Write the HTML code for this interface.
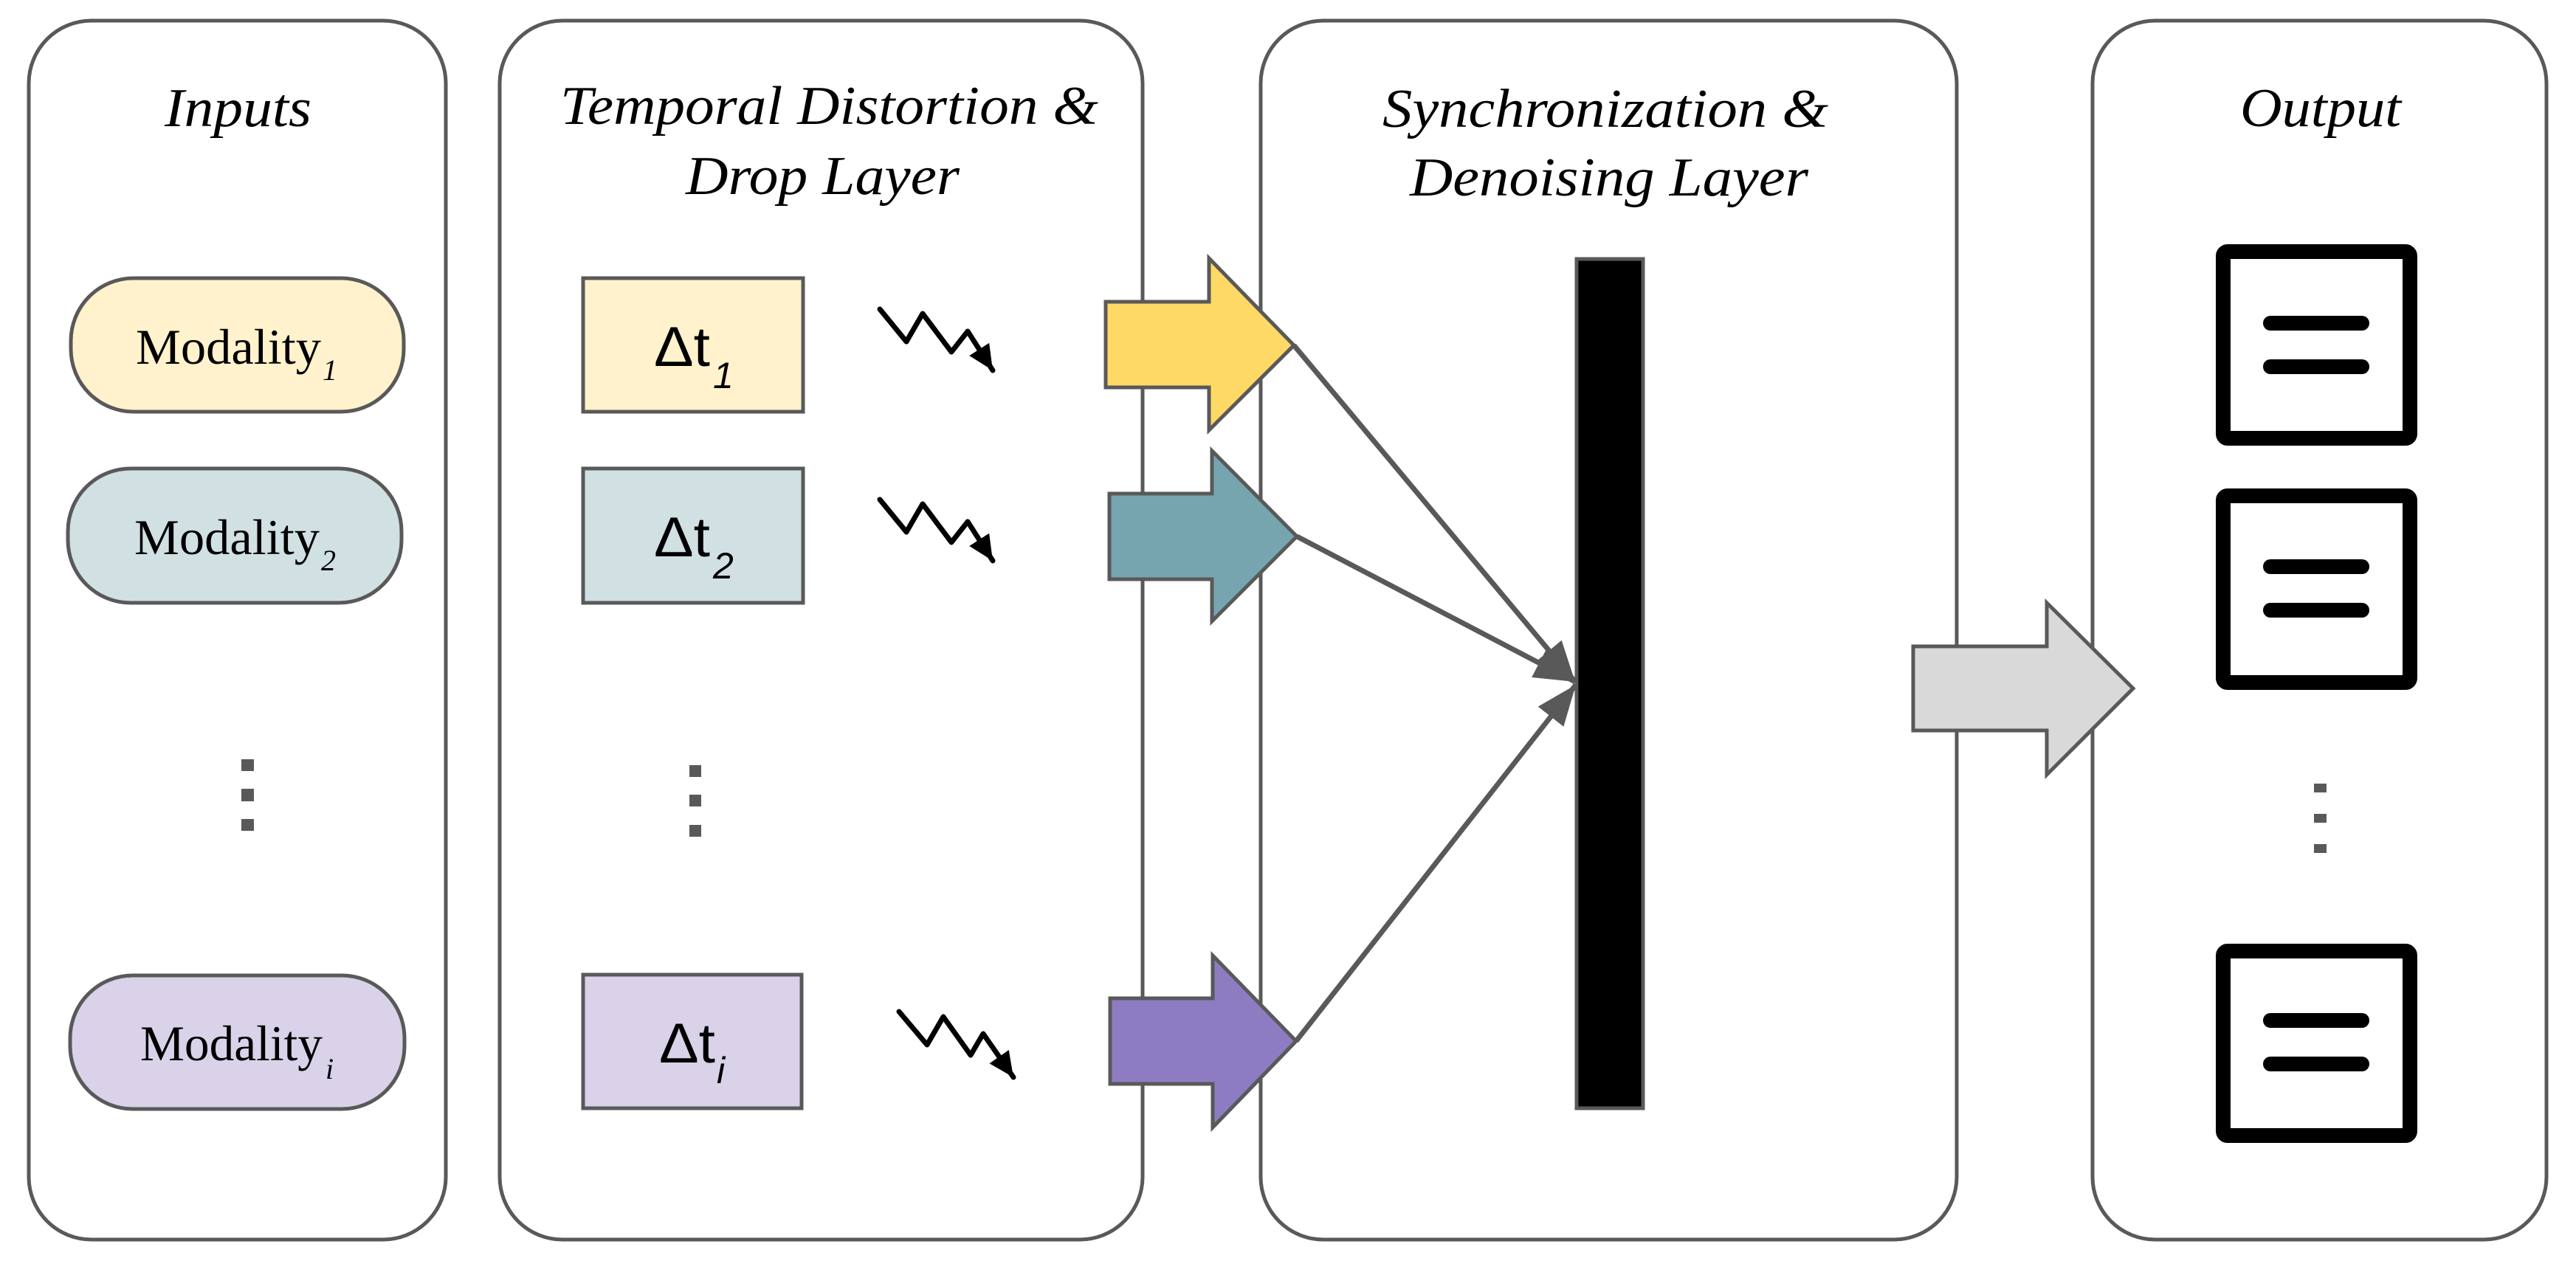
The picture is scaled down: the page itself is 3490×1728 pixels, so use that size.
<!DOCTYPE html>
<html><head><meta charset="utf-8"><style>html,body{margin:0;padding:0;background:#fff}svg{display:block}</style></head>
<body>
<svg width="3490" height="1728" viewBox="0 0 3490 1728" xmlns="http://www.w3.org/2000/svg">
<defs>
<marker id="ah" markerUnits="userSpaceOnUse" markerWidth="60" markerHeight="50" refX="55" refY="22" orient="auto">
<path d="M0,0 L55,22 L0,44 Z" fill="#595959"/>
</marker>
<marker id="zz" markerUnits="userSpaceOnUse" markerWidth="40" markerHeight="40" refX="34" refY="16" orient="auto">
<path d="M0,0 L34,16 L0,32 Z" fill="#000"/>
</marker>
</defs>
<g fill="#fff" stroke="#595959" stroke-width="5">
<rect x="39" y="28" width="565" height="1652" rx="85" ry="85"/>
<rect x="677" y="28" width="871" height="1652" rx="85" ry="85"/>
<rect x="1708" y="28" width="943" height="1652" rx="85" ry="85"/>
<rect x="2835" y="28" width="615" height="1652" rx="85" ry="85"/>
</g>
<g font-family="Liberation Serif, serif" font-style="italic" font-size="74" fill="#000">
<text x="223" y="171" textLength="199" lengthAdjust="spacingAndGlyphs">Inputs</text>
<text x="759" y="168" textLength="729" lengthAdjust="spacingAndGlyphs">Temporal Distortion &amp;</text>
<text x="929" y="263" textLength="371" lengthAdjust="spacingAndGlyphs">Drop Layer</text>
<text x="1873" y="172" textLength="604" lengthAdjust="spacingAndGlyphs">Synchronization &amp;</text>
<text x="1910" y="265" textLength="540" lengthAdjust="spacingAndGlyphs">Denoising Layer</text>
<text x="3035" y="171" textLength="218" lengthAdjust="spacingAndGlyphs">Output</text>
</g>
<g stroke="#595959" stroke-width="5">
<rect x="96" y="377" width="451" height="181" rx="85" ry="85" fill="#fff2cc"/>
<rect x="92" y="635" width="452" height="182" rx="85" ry="85" fill="#d0e0e3"/>
<rect x="95" y="1322" width="453" height="181" rx="85" ry="85" fill="#d9d2e9"/>
<rect x="790" y="377" width="298" height="181" fill="#fff2cc"/>
<rect x="790" y="635" width="298" height="182" fill="#d0e0e3"/>
<rect x="790" y="1321" width="296" height="181" fill="#d9d2e9"/>
</g>
<g font-family="Liberation Serif, serif" fill="#000">
<text x="184" y="493" font-size="68" textLength="251" lengthAdjust="spacingAndGlyphs">Modality</text>
<text x="437" y="515" font-size="40" font-style="italic">1</text>
<text x="182" y="751" font-size="68" textLength="251" lengthAdjust="spacingAndGlyphs">Modality</text>
<text x="435" y="773" font-size="40" font-style="italic">2</text>
<text x="190" y="1437" font-size="68" textLength="247" lengthAdjust="spacingAndGlyphs">Modality</text>
<text x="441" y="1462" font-size="40" font-style="italic">i</text>
</g>
<g font-family="Liberation Sans, sans-serif" fill="#000">
<text x="886" y="496" font-size="76" textLength="76" lengthAdjust="spacingAndGlyphs">Δt</text>
<text x="966" y="526" font-size="50" font-style="italic">1</text>
<text x="886" y="754" font-size="76" textLength="76" lengthAdjust="spacingAndGlyphs">Δt</text>
<text x="966" y="784" font-size="50" font-style="italic">2</text>
<text x="893" y="1440" font-size="76" textLength="76" lengthAdjust="spacingAndGlyphs">Δt</text>
<text x="971" y="1468" font-size="50" font-style="italic">i</text>
</g>
<g fill="#595959">
<rect x="327" y="1029" width="17" height="16"/><rect x="327" y="1069" width="17" height="17"/><rect x="327" y="1110" width="17" height="16"/>
<rect x="934" y="1037" width="16" height="16"/><rect x="934" y="1077" width="16" height="16"/><rect x="934" y="1118" width="16" height="16"/>
<rect x="3135" y="1062" width="17" height="12"/><rect x="3135" y="1103" width="17" height="12"/><rect x="3135" y="1144" width="17" height="12"/>
</g>
<g fill="none" stroke="#000" stroke-width="7" stroke-linejoin="round" stroke-linecap="round" marker-end="url(#zz)">
<polyline points="1192,419 1228,463 1250,425 1289,477 1311,449 1345,502"/>
<polyline points="1192,677 1228,721 1250,683 1289,735 1311,707 1345,760"/>
<polyline points="1218,1371 1256,1416 1278,1378 1315,1430 1332,1401 1373,1460"/>
</g>
<g stroke="#595959" stroke-width="5" stroke-linejoin="miter">
<path d="M1498,409 H1638 V350 L1753,468 L1638,583 V525 H1498 Z" fill="#ffd966"/>
<path d="M1503,669 H1642 V611 L1757,727 L1642,842 V785 H1503 Z" fill="#76a5af"/>
<path d="M1504,1353 H1643 V1295 L1756,1411 L1643,1528 V1469 H1504 Z" fill="#8e7cc3"/>
<path d="M2592,876 H2773 V817 L2890,933 L2773,1050 V990 H2592 Z" fill="#d9d9d9"/>
</g>
<rect x="2136" y="351" width="90" height="1151" fill="#000" stroke="#595959" stroke-width="5"/>
<g stroke="#595959" stroke-width="7" fill="none" marker-end="url(#ah)">
<line x1="1753" y1="468" x2="2134" y2="924"/>
<line x1="1757" y1="727" x2="2134" y2="924"/>
<line x1="1756" y1="1411" x2="2135" y2="928"/>
</g>
<g fill="none" stroke="#000" stroke-width="20">
<rect x="3012" y="341" width="253" height="253" rx="6"/>
<rect x="3012" y="672" width="253" height="253" rx="6"/>
<rect x="3012" y="1289" width="253" height="250" rx="6"/>
</g>
<g stroke="#000" stroke-width="20" stroke-linecap="round">
<line x1="3076" y1="438" x2="3200" y2="438"/><line x1="3076" y1="497" x2="3200" y2="497"/>
<line x1="3076" y1="768" x2="3200" y2="768"/><line x1="3076" y1="827" x2="3200" y2="827"/>
<line x1="3076" y1="1383" x2="3200" y2="1383"/><line x1="3076" y1="1442" x2="3200" y2="1442"/>
</g>
</svg>
</body></html>
